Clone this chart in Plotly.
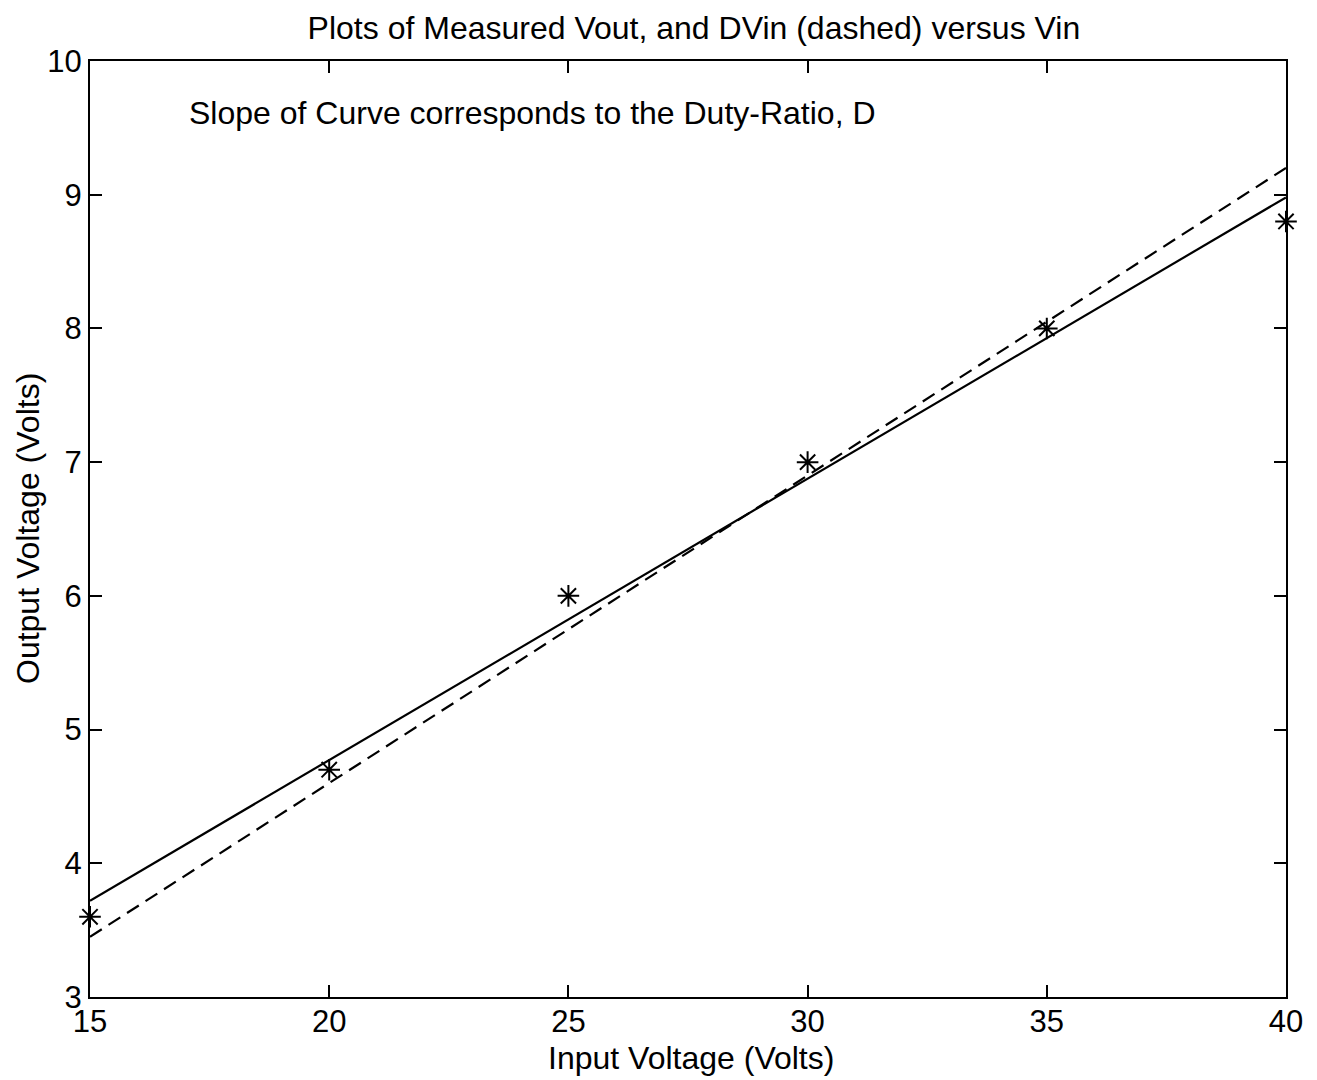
import plotly.graph_objects as go

vin = [15, 20, 25, 30, 35, 40]
vout_measured = [3.6, 4.7, 6.0, 7.0, 8.0, 8.8]

fit_x = [15, 40]
fit_y = [3.72, 8.98]

dvin_x = [15, 40]
dvin_y = [3.45, 9.2]

x_ticks = [15, 20, 25, 30, 35, 40]
y_ticks = [3, 4, 5, 6, 7, 8, 9, 10]

font_family = "Liberation Sans, Arial, Helvetica, sans-serif"

fig = go.Figure()
fig.add_trace(go.Scatter(x=fit_x, y=fit_y, mode="lines",
                         line=dict(color="black", width=2.2), showlegend=False))
fig.add_trace(go.Scatter(x=dvin_x, y=dvin_y, mode="lines",
                         line=dict(color="black", width=2.2, dash="14px,8px"), showlegend=False))
fig.add_trace(go.Scatter(x=vin, y=vout_measured, mode="markers",
                         marker=dict(symbol="asterisk-open", size=18, color="black",
                                     line=dict(color="black", width=2)),
                         showlegend=False, cliponaxis=False))

fig.add_annotation(x=17.03, y=9.61, xref="x", yref="y", xanchor="left", yanchor="middle",
                   text="Slope of Curve corresponds to the Duty-Ratio, D", showarrow=False,
                   font=dict(size=32, color="black", family=font_family))

# axis titles
fig.add_annotation(x=0.5, y=0, xref="paper", yref="paper", xanchor="center", yanchor="middle",
                   yshift=-61, xshift=3, text="Input Voltage (Volts)", showarrow=False,
                   font=dict(size=32, color="black", family=font_family))
fig.add_annotation(x=0, y=0.5, xref="paper", yref="paper", xanchor="center", yanchor="middle",
                   xshift=-62, text="Output Voltage (Volts)", textangle=-90, showarrow=False,
                   font=dict(size=32, color="black", family=font_family))

fig.update_layout(
    width=1309, height=1072,
    paper_bgcolor="white", plot_bgcolor="white",
    margin=dict(l=82, r=31, t=53, b=83),
    title=dict(text="Plots of Measured Vout, and DVin (dashed) versus Vin",
               xref="container", yref="container",
               x=0.524, xanchor="center", y=0.9813, yanchor="middle",
               font=dict(size=32, color="black", family=font_family)),
    font=dict(family=font_family, color="black"),
)
fig.update_xaxes(range=[15, 40], tickvals=x_ticks, ticks="inside", ticklen=12, tickwidth=2,
                 tickcolor="black", showline=True, linecolor="black", linewidth=2, mirror="ticks",
                 showgrid=False, zeroline=False, tickfont=dict(size=31, color="black"),
                 ticklabelstandoff=-4)
fig.update_yaxes(range=[3, 10], tickvals=y_ticks, ticks="inside", ticklen=12, tickwidth=2,
                 tickcolor="black", showline=True, linecolor="black", linewidth=2, mirror="ticks",
                 showgrid=False, zeroline=False, tickfont=dict(size=31, color="black"))

fig.write_html("out.html")
